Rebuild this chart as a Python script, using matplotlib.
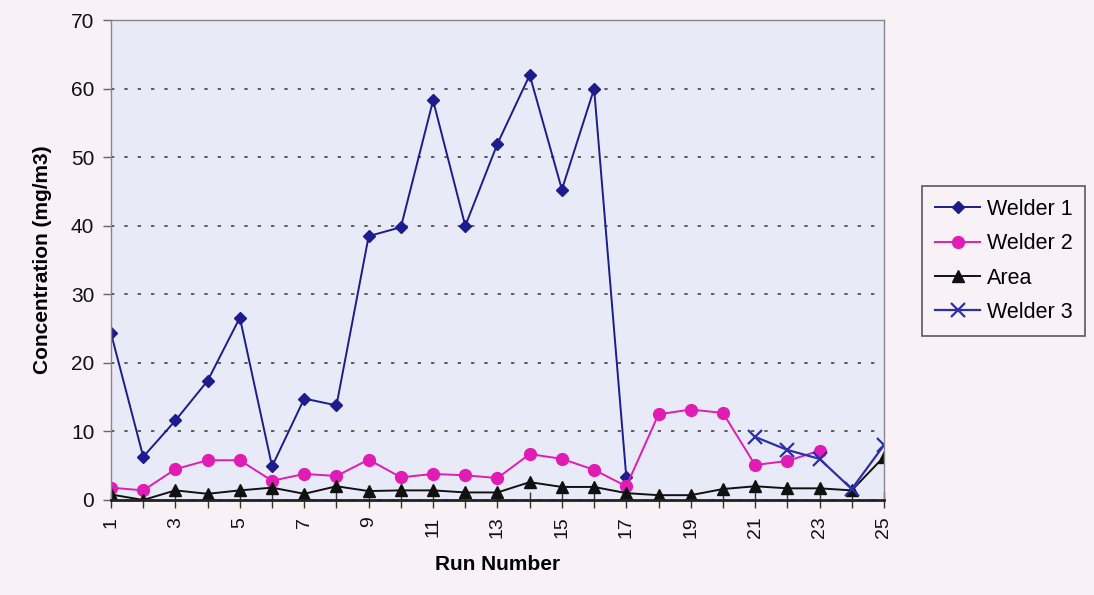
import numpy as np
import matplotlib.pyplot as plt

plt.rcParams['font.family'] = ['Liberation Sans', 'DejaVu Sans']

runs = list(range(1, 26))

welder1_runs = list(range(1, 18))
welder1 = [24.3, 6.3, 11.6, 17.4, 26.6, 4.9, 14.8, 13.8, 38.5, 39.8,
           58.3, 40.0, 52.0, 62.0, 45.3, 60.0, 3.3]

welder2_runs = list(range(1, 24))
welder2 = [1.8, 1.4, 4.5, 5.8, 5.8, 2.8, 3.8, 3.5, 5.9, 3.3,
           3.8, 3.6, 3.2, 6.7, 6.0, 4.4, 2.0, 12.5, 13.2, 12.7,
           5.1, 5.7, 7.2]

area = [0.8, 0.0, 1.4, 0.9, 1.4, 1.8, 0.9, 2.0, 1.3, 1.4,
        1.4, 1.1, 1.1, 2.6, 1.9, 1.9, 1.0, 0.7, 0.7, 1.6,
        2.0, 1.7, 1.7, 1.4, 6.3]

welder3_runs = [21, 22, 23, 24, 25]
welder3 = [9.2, 7.3, 6.0, 1.6, 8.0]

fig = plt.figure(figsize=(10.94, 5.95), dpi=100, facecolor='#f8f1f6')
ax = fig.add_axes([0.1015, 0.1597, 0.7065, 0.8063])
ax.set_facecolor('#e9eaf7')

ax.plot(welder1_runs, welder1, color='#1c1c8e', marker='D', markersize=6.5,
        linewidth=1.4, label='Welder 1')
ax.plot(welder2_runs, welder2, color='#e01cb4', marker='o', markersize=8.5,
        linewidth=1.4, label='Welder 2')
ax.plot(runs, area, color='#111111', marker='^', markersize=8.5,
        linewidth=1.4, label='Area')
ax.plot(welder3_runs, welder3, color='#2b2fa8', marker='x', markersize=10,
        markeredgewidth=1.6, linewidth=1.6, label='Welder 3')

ax.set_xlim(1, 25)
ax.set_ylim(0, 70)
ax.set_yticks(np.arange(0, 71, 10))
ax.set_xticks(runs)
ax.set_xticklabels([str(r) if r % 2 == 1 else '' for r in runs], rotation=90)
ax.tick_params(axis='x', direction='inout', length=12, width=1, colors='#333333',
               labelsize=14, labelcolor='#111111', pad=6)
ax.tick_params(axis='y', direction='out', length=6, width=1, colors='#666666',
               labelsize=15, labelcolor='#111111', pad=6)

ax.yaxis.grid(True, linestyle=(0, (2, 6)), color='#444444', linewidth=1.2)
ax.set_axisbelow(True)

for side in ['top', 'right', 'left']:
    ax.spines[side].set_color('#888888')
    ax.spines[side].set_linewidth(1)
ax.spines['bottom'].set_color('#222222')
ax.spines['bottom'].set_linewidth(2)

ax.set_xlabel('Run Number', fontsize=15, fontweight='bold', labelpad=12)
ax.set_ylabel('Concentration (mg/m3)', fontsize=15, fontweight='bold', labelpad=14)

leg = ax.legend(loc='upper left', bbox_to_anchor=(922 / 1094, 1 - 186 / 595),
                bbox_transform=fig.transFigure, fontsize=15.5,
                frameon=True, fancybox=False, edgecolor='#333333',
                facecolor='#f8f1f6', handlelength=2.1, borderpad=0.6,
                labelspacing=0.62, handletextpad=0.3, borderaxespad=0)
leg.get_frame().set_linewidth(1.2)

fig.savefig('out.png', dpi=100, facecolor=fig.get_facecolor())
